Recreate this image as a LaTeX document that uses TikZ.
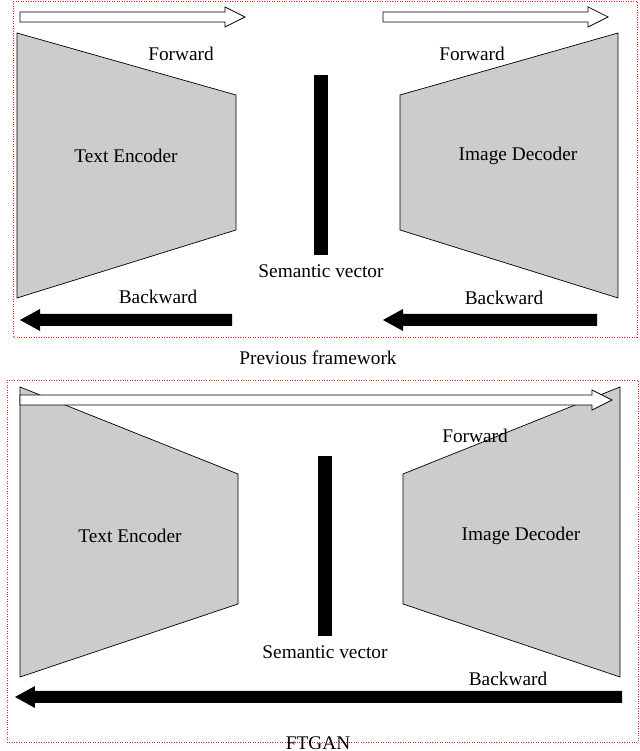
\documentclass[tikz,border=0pt]{standalone}
\usepackage{fontspec}
\setmainfont{Liberation Serif}
\usetikzlibrary{positioning}
\tikzstyle{frame} = [draw=red!90, densely dotted, thin]
\tikzstyle{block} = [draw, fill=gray!40, thin]
\tikzstyle{bar} = [fill=black, inner sep=0pt, minimum width=0.27cm, minimum height=3.6cm]
\tikzstyle{label} = [font=\fontsize{11}{13}\selectfont, inner sep=1pt]
% hollow arrow: x start, x end, y centre (px)
\newcommand{\hollowarrow}[3]{%
  \draw[fill=white, thin] (#1/50,{(751-#3)/50+0.1}) -- ({#2/50-0.4},{(751-#3)/50+0.1}) -- ({#2/50-0.4},{(751-#3)/50+0.2})
    -- (#2/50,{(751-#3)/50}) -- ({#2/50-0.4},{(751-#3)/50-0.2}) -- ({#2/50-0.4},{(751-#3)/50-0.1}) -- (#1/50,{(751-#3)/50-0.1}) -- cycle;}
% black arrow pointing left: x tail, x tip, y centre (px)
\newcommand{\fatarrow}[3]{%
  \fill (#1/50,{(751-#3)/50+0.12}) -- ({#2/50+0.4},{(751-#3)/50+0.12}) -- ({#2/50+0.4},{(751-#3)/50+0.22})
    -- (#2/50,{(751-#3)/50}) -- ({#2/50+0.4},{(751-#3)/50-0.22}) -- ({#2/50+0.4},{(751-#3)/50-0.12}) -- (#1/50,{(751-#3)/50-0.12}) -- cycle;}
\begin{document}
\begin{tikzpicture}[x=1cm, y=1cm]
\useasboundingbox (0,0) rectangle (12.8,15.02);
% previous framework
\draw[frame] (13/50,{(751-1)/50}) rectangle (637/50,{(751-337)/50});
\hollowarrow{20}{245}{17}
\hollowarrow{383}{608}{17}
\draw[block] (17/50,{(751-33)/50}) -- (236/50,{(751-95)/50}) -- (236/50,{(751-230)/50}) -- (17/50,{(751-298)/50}) -- cycle;
\draw[block] (400/50,{(751-95)/50}) -- (618/50,{(751-33)/50}) -- (618/50,{(751-298)/50}) -- (400/50,{(751-230)/50}) -- cycle;
\node[bar] (sv1) at (321/50,{(751-165)/50}) {};
\node[label] (fw1) at (181/50,{(751-54)/50}) {Forward};
\node[label] (fw2) at (472/50,{(751-54)/50}) {Forward};
\node[label] (enc1) at (126/50,{(751-156)/50}) {Text Encoder};
\node[label] (dec1) at (518/50,{(751-156)/50}) {Image Decoder};
\node[label, below=0.15cm of sv1] (svl1) {Semantic vector};
\node[label] (bw1) at (158/50,{(751-297)/50}) {Backward};
\node[label] (bw2) at (504/50,{(751-298)/50}) {Backward};
\fatarrow{232}{20}{320}
\fatarrow{597}{383}{320}
\node[label] (cap1) at (318/50,{(751-358)/50}) {Previous framework};
% FTGAN
\draw[frame] (7/50,{(751-380)/50}) rectangle (638/50,{(751-742)/50});
\draw[block] (20/50,{(751-387)/50}) -- (238/50,{(751-474)/50}) -- (238/50,{(751-604)/50}) -- (20/50,{(751-677)/50}) -- cycle;
\draw[block] (403/50,{(751-474)/50}) -- (620/50,{(751-387)/50}) -- (620/50,{(751-677)/50}) -- (403/50,{(751-604)/50}) -- cycle;
\hollowarrow{20}{612}{400}
\node[bar] (sv2) at (325/50,{(751-546)/50}) {};
\node[label] (fw3) at (475/50,{(751-436)/50}) {Forward};
\node[label] (enc2) at (130/50,{(751-536)/50}) {Text Encoder};
\node[label] (dec2) at (521/50,{(751-536)/50}) {Image Decoder};
\node[label, below=0.15cm of sv2] (svl2) {Semantic vector};
\node[label] (bw3) at (508/50,{(751-679)/50}) {Backward};
\fatarrow{622}{15}{697}
\node[label] (cap2) at (318/50,{(751-743)/50}) {FTGAN};
\end{tikzpicture}
\end{document}
